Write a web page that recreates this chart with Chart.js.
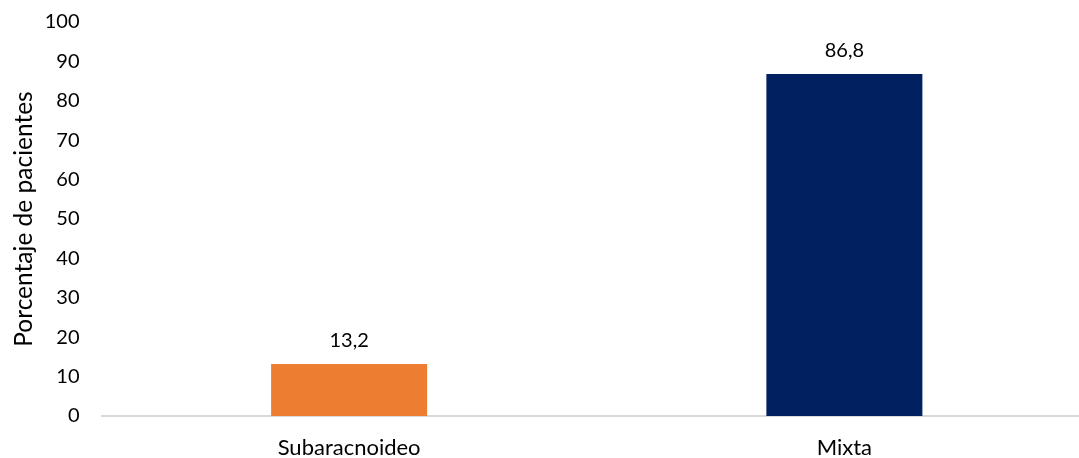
<!DOCTYPE html>
<html>
<head>
<meta charset="utf-8">
<script src="https://cdn.jsdelivr.net/npm/chart.js@4.4.1/dist/chart.umd.min.js"></script>
<style>
  html, body { margin: 0; padding: 0; background: #fff; overflow: hidden; }
  #wrap { position: relative; width: 1092px; height: 458px; }
</style>
</head>
<body>
<div id="wrap"><canvas id="grafico"></canvas></div>
<script>
// datos del gráfico
const categorias = ['Subaracnoideo', 'Mixta'];
const porcentajes = [13.2, 86.8];
const colores = ['#ED7D31', '#002060'];
const ticksY = [0, 10, 20, 30, 40, 50, 60, 70, 80, 90, 100];

const fuente = 'Lato, "Noto Sans", sans-serif';

// etiquetas encima de las barras
const etiquetasPlugin = {
    id: 'etiquetas',
    afterDatasetsDraw(chart) {
        const ctx = chart.ctx;
        const meta = chart.getDatasetMeta(0);
        ctx.save();
        ctx.font = '20px ' + fuente;
        ctx.fillStyle = '#000';
        ctx.textAlign = 'center';
        ctx.textBaseline = 'alphabetic';
        meta.data.forEach((bar, i) => {
            const txt = porcentajes[i].toFixed(1).replace('.', ',');
            ctx.fillText(txt, bar.x, bar.y - 17);
        });
        ctx.restore();
    }
};

new Chart(document.getElementById('grafico'), {
    type: 'bar',
    data: {
        labels: categorias,
        datasets: [{
            data: porcentajes,
            backgroundColor: colores,
            barPercentage: 1,
            categoryPercentage: 0.315
        }]
    },
    options: {
        responsive: true,
        maintainAspectRatio: false,
        animation: false,
        layout: { padding: { top: 22, right: 0, bottom: 0, left: 0 } },
        plugins: {
            legend: { display: false },
            tooltip: { enabled: false }
        },
        scales: {
            x: {
                grid: { display: false },
                border: { display: true, color: '#D9D9D9', width: 2 },
                ticks: {
                    color: '#000',
                    padding: 11,
                    font: { family: fuente, size: 22 }
                },
                afterFit: scale => { scale.height = 42; }
            },
            y: {
                min: 0,
                max: 100,
                afterBuildTicks: scale => {
                    scale.ticks = ticksY.map(v => ({ value: v }));
                },
                grid: { display: false },
                border: { display: false },
                ticks: {
                    color: '#000',
                    padding: 14,
                    font: { family: fuente, size: 20 }
                },
                title: {
                    display: true,
                    text: 'Porcentaje de pacientes',
                    color: '#000',
                    padding: { top: 9, bottom: 0 },
                    font: { family: fuente, size: 24.5 }
                },
                afterFit: scale => {
                    scale.width = 101.5;
                    scale.paddingTop = 0;
                    scale.paddingBottom = 0;
                }
            }
        }
    },
    plugins: [etiquetasPlugin]
});
</script>
</body>
</html>
